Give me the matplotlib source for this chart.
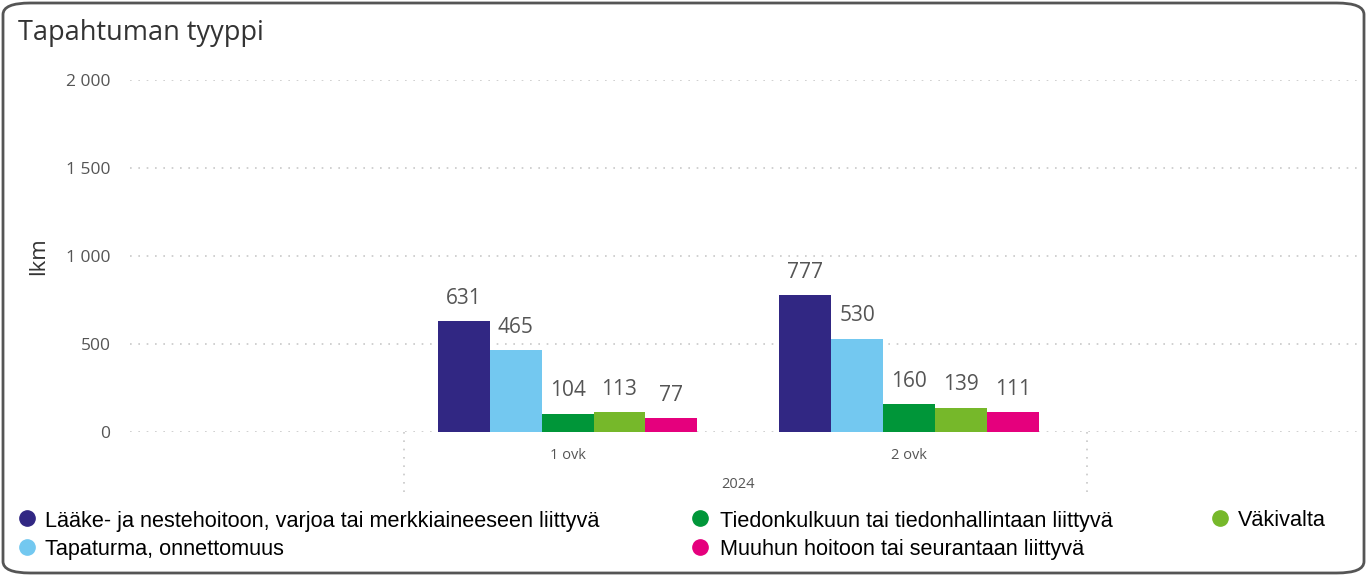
import matplotlib
matplotlib.use('agg')
import matplotlib.pyplot as plt
from matplotlib.patches import FancyBboxPatch
import numpy as np

groups = ['1 ovk', '2 ovk']
year = '2024'
series = ['Lääke- ja nestehoitoon, varjoa tai merkkiaineeseen liittyvä',
          'Tapaturma, onnettomuus',
          'Tiedonkulkuun tai tiedonhallintaan liittyvä',
          'Väkivalta',
          'Muuhun hoitoon tai seurantaan liittyvä']
values = [[631, 777],
          [465, 530],
          [104, 160],
          [113, 139],
          [77, 111]]
colors = ['#312783', '#73C8F0', '#009639', '#76B82A', '#E5007D']
yticks = [0, 500, 1000, 1500, 2000]
ytick_labels = ['0', '500', '1 000', '1 500', '2 000']

W, H = 1367, 576
fig = plt.figure(figsize=(W / 100, H / 100), dpi=100)

# rounded frame around the visual
frame = FancyBboxPatch((3 / W, 3 / H), 1 - 6 / W, 1 - 6 / H,
                       boxstyle='round,pad=0,rounding_size=0.02',
                       transform=fig.transFigure, fill=False,
                       edgecolor='#555555', linewidth=2)
fig.patches.append(frame)

fig.text(18 / W, 1 - 33 / H, 'Tapahtuman tyyppi', fontsize=19.5,
         family='Open Sans', color='#333333', va='center')

ax = fig.add_axes([130 / W, (H - 432) / H, (1360 - 130) / W, 352 / H])
ax.set_ylim(0, 2000)
ax.set_xlim(-1.281, 2.32)
for s in ax.spines.values():
    s.set_visible(False)
ax.set_yticks(yticks)
ax.set_yticklabels(ytick_labels, fontsize=12.5, color='#555555', family='Open Sans')
ax.tick_params(axis='y', length=0, pad=14)
ax.set_xticks([])
for t in yticks:
    ax.axhline(t, color='#c8c8c8', linestyle=(0, (1, 4)), linewidth=1.2, zorder=0)

ax.set_ylabel('lkm', fontsize=16, color='#333333', family='Open Sans', labelpad=12)

x = np.arange(len(groups))
bw = 0.152
n = len(series)
for i in range(n):
    pos = x + (i - (n - 1) / 2) * bw
    ax.bar(pos, values[i], width=bw, color=colors[i], zorder=2)
    for p, v in zip(pos, values[i]):
        ax.text(p, v + 70, str(v), ha='center', va='bottom', fontsize=15,
                color='#555555', family='Open Sans')

# category labels under the axis
for xi, g in zip(x, groups):
    ax.annotate(g, (xi, 0), xycoords='data', xytext=(0, -17),
                textcoords='offset points', ha='center', va='center',
                fontsize=10.5, color='#555555', family='Open Sans',
                annotation_clip=False)
ax.annotate(year, (0.5, 0), xycoords='data', xytext=(0, -38),
            textcoords='offset points', ha='center', va='center',
            fontsize=10.5, color='#555555', family='Open Sans',
            annotation_clip=False)
for xb in [-0.48, 1.52]:
    ax.plot([xb, xb], [0, -370], color='#c8c8c8', linestyle=(0, (1, 4)),
            linewidth=1.2, clip_on=False)

# legend
leg_pos = [(27, 45, 521), (27, 45, 550), (700, 720, 521), (1220, 1238, 521), (700, 720, 550)]
for (mx, tx, ty), name, c in zip(leg_pos, series, colors):
    fig.lines.append(plt.Line2D([mx / W], [1 - (ty - 3) / H], marker='o', markersize=11,
                                color=c, transform=fig.transFigure))
    fig.text(tx / W, 1 - ty / H, name, fontsize=15.6, family='Liberation Sans',
             color='black', va='center')

fig.savefig('out.png', dpi=100)
